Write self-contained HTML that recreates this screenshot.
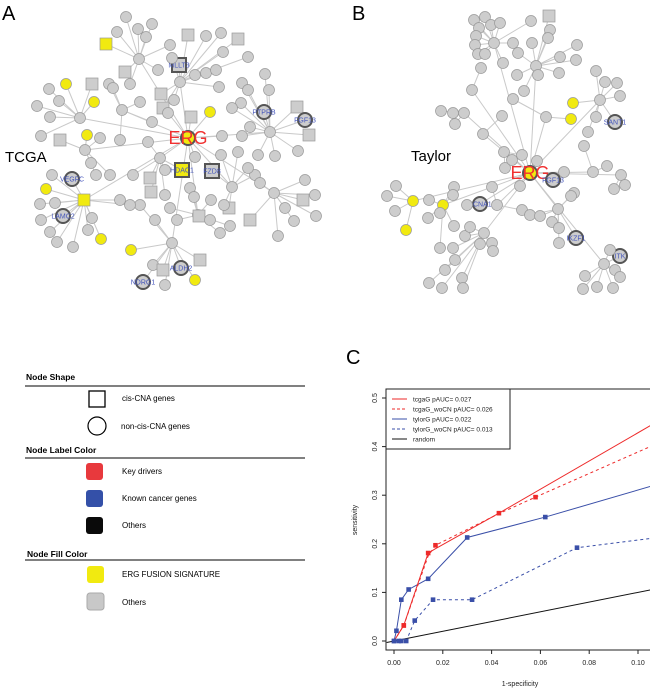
<!DOCTYPE html>
<html><head><meta charset="utf-8"><style>
body{margin:0;background:#fff;}
svg{display:block;font-family:"Liberation Sans",Arial,sans-serif;}
</style></head><body>
<svg id="fig" width="650" height="700" viewBox="0 0 650 700">
<g id="netA"></g>
<g id="netB"></g>
<text x="2" y="20" font-size="20">A</text>
<text x="352" y="20" font-size="20">B</text>
<text x="5" y="162" font-size="15">TCGA</text>
<text x="411" y="161" font-size="15">Taylor</text>

<g id="legend" font-weight="bold" font-size="8.5">
<text x="26" y="380">Node Shape</text>
<line x1="25" y1="386" x2="305" y2="386" stroke="#000" stroke-width="1"/>
<rect x="89" y="391" width="16" height="16" fill="#fff" stroke="#000" stroke-width="1.3"/>
<text x="122" y="401" font-weight="normal" font-size="8">cis-CNA genes</text>
<circle cx="97" cy="426" r="9" fill="#fff" stroke="#000" stroke-width="1.2"/>
<text x="121" y="429" font-weight="normal" font-size="8">non-cis-CNA genes</text>
<text x="26" y="453">Node Label Color</text>
<line x1="25" y1="458" x2="305" y2="458" stroke="#000"/>
<rect x="86" y="463" width="17" height="17" rx="3" fill="#e8393d"/>
<text x="122" y="474" font-weight="normal" font-size="8">Key drivers</text>
<rect x="86" y="490" width="17" height="17" rx="3" fill="#3450a8"/>
<text x="122" y="501" font-weight="normal" font-size="8">Known cancer genes</text>
<rect x="86" y="517" width="17" height="17" rx="3" fill="#0a0a0a"/>
<text x="122" y="528" font-weight="normal" font-size="8">Others</text>
<text x="27" y="557">Node Fill Color</text>
<line x1="25" y1="560" x2="305" y2="560" stroke="#000"/>
<rect x="87" y="566" width="17" height="17" rx="3" fill="#f1ea10"/>
<text x="122" y="577" font-weight="normal" font-size="8">ERG FUSION SIGNATURE</text>
<rect x="87" y="593" width="17" height="17" rx="3" fill="#c8c8c8" stroke="#aaa"/>
<text x="122" y="605" font-weight="normal" font-size="8">Others</text>
</g>

<text x="346" y="364" font-size="20">C</text>
<g id="chart"></g>
</svg>
<script>
// ---- chart data ----
const xTicks=[0,0.02,0.04,0.06,0.08,0.10];
const xTickLabels=["0.00","0.02","0.04","0.06","0.08","0.10"];
const yTicks=[0,0.1,0.2,0.3,0.4,0.5];
const yTickLabels=["0.0","0.1","0.2","0.3","0.4","0.5"];
const tcgaX=[0,0.004,0.014,0.017,0.043,0.105];
const tcgaY=[0,0.032,0.181,0.19,0.263,0.443];
const tcgaMX=[0.004,0.014,0.043];
const tcgaMY=[0.032,0.181,0.263];
const tcgaWoX=[0,0.004,0.014,0.017,0.043,0.058,0.105];
const tcgaWoY=[0,0.032,0.175,0.197,0.262,0.296,0.40];
const tcgaWoMX=[0.004,0.017,0.058];
const tcgaWoMY=[0.032,0.197,0.296];
const tylorX=[0,0.001,0.003,0.006,0.014,0.030,0.062,0.105];
const tylorY=[0,0.021,0.085,0.106,0.128,0.213,0.255,0.318];
const tylorWoX=[0,0.005,0.0085,0.016,0.032,0.075,0.105];
const tylorWoY=[0,0,0.042,0.085,0.085,0.192,0.211];
const randomX=[-0.003,0.105];
const randomY=[-0.003,0.105];
const legendLabels=["tcgaG pAUC= 0.027","tcgaG_woCN pAUC= 0.026","tylorG pAUC= 0.022","tylorG_woCN pAUC= 0.013","random"];

const NS="http://www.w3.org/2000/svg";
function mk(tag,attrs,parent){const e=document.createElementNS(NS,tag);for(const k in attrs)e.setAttribute(k,attrs[k]);parent.appendChild(e);return e;}
const X0=394,XS=2440,Y0=641,YS=486;
const sx=v=>X0+v*XS, sy=v=>Y0-v*YS;
const chart=document.getElementById('chart');
const defs=mk('defs',{},chart);
const cp=mk('clipPath',{id:'pc'},defs);mk('rect',{x:386,y:389,width:264,height:261},cp);
const frame=mk('rect',{x:386,y:389,width:270,height:261,fill:'none',stroke:'#222','stroke-width':1},chart);


xTicks.forEach((t,i)=>{
 const l=mk('line',{x1:sx(t),x2:sx(t),y1:650,y2:654,stroke:'#222'},chart);
 
 
 const tx=mk('text',{x:sx(t),y:665,'font-size':7,'text-anchor':'middle',fill:'#222'},chart);tx.textContent=xTickLabels[i];
 
 
});
yTicks.forEach((t,i)=>{
 const l=mk('line',{x1:382,x2:386,y1:sy(t),y2:sy(t),stroke:'#222'},chart);
 
 
 const tx=mk('text',{x:0,y:0,'font-size':7,'text-anchor':'middle',fill:'#222',transform:`translate(377,${sy(t)}) rotate(-90)`},chart);tx.textContent=yTickLabels[i];
 
 
});
const xt=mk('text',{x:520,y:686,'font-size':7,'text-anchor':'middle',fill:'#222'},chart);xt.textContent='1-specificity';


const yt=mk('text',{x:0,y:0,'font-size':7,'text-anchor':'middle',fill:'#222',transform:'translate(357,520) rotate(-90)'},chart);yt.textContent='sensitivity';


const pg=mk('g',{'clip-path':'url(#pc)'},chart);
function line(xs,ys,color,dash,name){
 const p=mk('polyline',{points:xs.map((x,i)=>sx(x)+','+sy(ys[i])).join(' '),fill:'none',stroke:color,'stroke-width':1,'stroke-dasharray':dash||'none'},pg);
 
 
}
function marks(xs,ys,color,name){xs.forEach((x,i)=>{
 const r=mk('rect',{x:sx(x)-2.3,y:sy(ys[i])-2.3,width:4.6,height:4.6,fill:color},pg);
 
 
});}
line(randomX,randomY,'#111','', 'random-line');
line(tylorWoX,tylorWoY,'#3a4fa8','3,3','tylorg-wocn-line');
line(tylorX,tylorY,'#3a4fa8','','tylorg-line');
line(tcgaWoX,tcgaWoY,'#ee2a2a','3,3','tcgag-wocn-line');
line(tcgaX,tcgaY,'#ee2a2a','','tcgag-line');
marks(tylorWoX.slice(0,6),tylorWoY.slice(0,6),'#3a4fa8','tylorg-wocn-point');
marks(tylorX.slice(1,7),tylorY.slice(1,7),'#3a4fa8','tylorg-point');
marks([0,0.002,0.003],[0,0,0],'#3a4fa8','tylorg-origin-point');
marks(tcgaMX,tcgaMY,'#ee2a2a','tcgag-point');
marks(tcgaWoMX,tcgaWoMY,'#ee2a2a','tcgag-wocn-point');
const lg=mk('g',{},chart);


mk('rect',{x:386,y:389,width:124,height:60,fill:'#fff',stroke:'#222'},lg);
const lc=['#ee2a2a','#ee2a2a','#3a4fa8','#3a4fa8','#111'],ld=['','3,2','','3,2',''];
legendLabels.forEach((s,i)=>{
 const y=399+i*10;
 mk('line',{x1:392,x2:407,y1:y,y2:y,stroke:lc[i],'stroke-dasharray':ld[i]||'none'},lg);
 const t=mk('text',{x:413,y:y+2.5,'font-size':6.5,fill:'#222'},lg);t.textContent=s;
 
 
});

// ---- networks ----
// kind: c gray circle, s gray square, y yellow circle, Y yellow square, r ring circle, R ring square, q ring yellow square
const A=[
[188,138,'r','ERG',1],[139,59,'c','',1],[179,65,'R','MLLT3',0],[180,82,'c','',1],[122,110,'c','',1],[80,118,'c','',1],[85,150,'c','',1],[84,200,'Y','',1],[172,243,'c','',1],[232,187,'c','',1],[274,193,'c','',1],[270,132,'c','',1],[160,158,'c','',1],[198,215,'c','',1],
[126,17,'c',''],[138,29,'c',''],[152,24,'c',''],[117,32,'c',''],[106,44,'Y',''],[146,37,'c',''],
[170,45,'c',''],[188,35,'s',''],[206,36,'c',''],[221,33,'c',''],[238,39,'s',''],[223,52,'c',''],[248,57,'c',''],[195,75,'c',''],[206,73,'c',''],[216,70,'c',''],[219,87,'c',''],[242,83,'c',''],[248,90,'c',''],[265,74,'c',''],[269,90,'c',''],[241,103,'c',''],[232,108,'c',''],[210,112,'y',''],[191,117,'s',''],[163,108,'s',''],[152,122,'c',''],[168,113,'c',''],[174,100,'c',''],[161,94,'s',''],[158,70,'c',''],[172,58,'c',''],
[109,84,'c',''],[125,72,'s',''],[113,88,'c',''],[94,102,'y',''],[92,84,'s',''],[130,84,'c',''],[140,102,'c',''],[100,138,'c',''],[120,140,'c',''],[148,142,'c',''],
[66,84,'y',''],[49,89,'c',''],[59,101,'c',''],[37,106,'c',''],[50,117,'c',''],[41,136,'c',''],[60,140,'s',''],[87,135,'y',''],
[264,112,'r','PTPRB'],[297,107,'s',''],[305,120,'r','FGF13'],[309,135,'s',''],[298,151,'c',''],[242,136,'c',''],[222,136,'c',''],[250,127,'c',''],[221,155,'c',''],[238,152,'c',''],[258,155,'c',''],[275,156,'c',''],[195,157,'c',''],
[182,170,'q','HDAC1'],[212,171,'R','FZD8'],[165,170,'c',''],[150,178,'s',''],[151,192,'s',''],[140,205,'c',''],[165,195,'c',''],[170,208,'c',''],[190,188,'c',''],[194,197,'c',''],[177,220,'c',''],[155,220,'c',''],[130,205,'c',''],[120,200,'c',''],[110,175,'c',''],[96,175,'c',''],[91,163,'c',''],[133,175,'c',''],
[229,208,'s',''],[224,205,'c',''],[211,200,'c',''],[230,226,'c',''],[250,220,'s',''],[255,175,'c',''],[260,183,'c',''],[248,168,'c',''],[199,216,'s',''],[210,220,'c',''],[220,233,'c',''],
[305,180,'c',''],[315,195,'c',''],[303,200,'s',''],[316,216,'c',''],[294,221,'c',''],[285,208,'c',''],[278,236,'c',''],
[72,179,'r','VEGFC'],[46,189,'y',''],[52,175,'c',''],[40,204,'c',''],[55,203,'c',''],[63,216,'r','LAMC2'],[41,220,'c',''],[50,232,'c',''],[57,242,'c',''],[73,247,'c',''],[88,230,'c',''],[92,218,'c',''],[101,239,'y',''],[131,250,'y',''],
[153,265,'c',''],[163,270,'s',''],[181,268,'r','ALDH2'],[195,280,'y',''],[165,285,'c',''],[143,282,'r','NDRG1'],[200,260,'s','']
];
const B=[
[530,173,'r','ERG',1],[494,43,'c','',1],[536,66,'c','',1],[546,117,'c','',1],[464,113,'c','',1],[483,134,'c','',1],[504,152,'c','',1],[480,204,'r','CACNA1D',1],[443,205,'y','',1],[413,201,'y','',1],[484,233,'c','',1],[558,209,'c','',1],[604,264,'c','',1],[564,172,'c','',1],[593,172,'c','',1],[621,175,'c','',1],[600,100,'c','',1],[472,90,'c','',1],[497,205,'c','',1],
[474,20,'c',''],[485,17,'c',''],[479,28,'c',''],[476,36,'c',''],[475,45,'c',''],[491,25,'c',''],[500,23,'c',''],[513,43,'c',''],[478,54,'c',''],[485,54,'c',''],[503,63,'c',''],[481,68,'c',''],
[531,21,'c',''],[549,16,'s',''],[550,30,'c',''],[532,43,'c',''],[548,38,'c',''],[577,45,'c',''],[576,60,'c',''],[560,57,'c',''],[518,53,'c',''],[559,73,'c',''],[517,75,'c',''],[538,75,'c',''],[513,99,'c',''],[524,91,'c',''],
[573,103,'y',''],[571,119,'y',''],[605,82,'c',''],[617,83,'c',''],[620,96,'c',''],[596,71,'c',''],[596,117,'c',''],[615,122,'r','SANT1'],[588,132,'c',''],[584,146,'c',''],
[453,113,'c',''],[441,111,'c',''],[455,124,'c',''],[502,116,'c',''],
[396,186,'c',''],[387,196,'c',''],[395,211,'c',''],[406,230,'y',''],[428,218,'c',''],[429,200,'c',''],[454,187,'c',''],[453,195,'c',''],[440,213,'c',''],[454,226,'c',''],[467,205,'c',''],[492,187,'c',''],[505,168,'c',''],[512,160,'c',''],[522,155,'c',''],[537,161,'c',''],
[465,236,'c',''],[453,248,'c',''],[440,248,'c',''],[455,260,'c',''],[445,270,'c',''],[429,283,'c',''],[442,288,'c',''],[462,278,'c',''],[463,288,'c',''],[480,244,'c',''],[492,243,'c',''],[493,251,'c',''],[470,227,'c',''],
[520,186,'c',''],[522,210,'c',''],[530,215,'c',''],[540,216,'c',''],[553,180,'r','FGF13'],[574,193,'c',''],[571,196,'c',''],[552,222,'c',''],[559,228,'c',''],[559,243,'c',''],[576,238,'r','IKZF1'],
[607,166,'c',''],[625,185,'c',''],[614,189,'c',''],[620,256,'r','ITK'],[610,250,'c',''],[615,270,'c',''],[620,277,'c',''],[597,287,'c',''],[583,289,'c',''],[613,288,'c',''],[585,276,'c','']
];
function drawNet(nodes,gid){
 const g=document.getElementById(gid);
 const eg=mk('g',{stroke:'#c9c9c9','stroke-width':1},g);
 const ng=mk('g',{},g);
 const hubs=nodes.filter(n=>n[4]);
 nodes.forEach((n,i)=>{
  let tgt;
  if(n[4]){tgt=nodes[0]; if(i===0)return;}
  else{let best=1e9;hubs.forEach(h=>{const d=(h[0]-n[0])**2+(h[1]-n[1])**2;if(d<best){best=d;tgt=h;}});}
  mk('line',{x1:n[0],y1:n[1],x2:tgt[0],y2:tgt[1]},eg);
 });
 nodes.forEach((n,i)=>{
  const [x,y,k,label]=n;
  const fill=(k==='y'||k==='Y'||k==='q'||i===0)?'#f1ea10':'#cdcdcd';
  let el;
  if(k==='s'||k==='Y'){el=mk('rect',{x:x-6,y:y-6,width:12,height:12,fill:fill,stroke:'#999','stroke-width':0.7},ng);}
  else if(k==='R'||k==='q'){el=mk('rect',{x:x-7,y:y-7,width:14,height:14,fill:fill,stroke:'#555','stroke-width':2},ng);}
  else if(k==='r'){el=mk('circle',{cx:x,cy:y,r:7,fill:fill,stroke:'#555','stroke-width':2},ng);}
  else{el=mk('circle',{cx:x,cy:y,r:5.5,fill:fill,stroke:'#999','stroke-width':0.7},ng);}
  
  
  if(label){
   const t=mk('text',{x:x,y:y+(i===0?6:2.5),'text-anchor':'middle','font-size':i===0?18:7,fill:i===0?'#f03030':'#4455bb'},ng);
   t.textContent=label;
   
   
  }
 });
}
drawNet(A,'netA');
drawNet(B,'netB');
</script>
</body></html>
